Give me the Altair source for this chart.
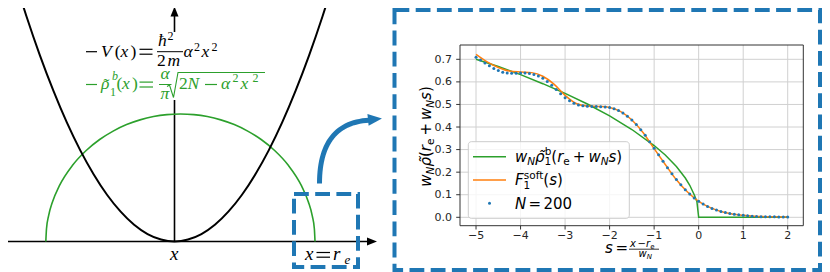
import math
import altair as alt
import pandas as pd

# ---------------- data: right panel ----------------
dot_s = [-5.0, -4.9, -4.8, -4.7, -4.6, -4.5, -4.4, -4.3, -4.2, -4.1,
         -4.0, -3.9, -3.8, -3.7, -3.6, -3.5, -3.4, -3.3, -3.2, -3.1,
         -3.0, -2.9, -2.8, -2.7, -2.6, -2.5, -2.4, -2.3, -2.2, -2.1,
         -2.0, -1.9, -1.8, -1.7, -1.6, -1.5, -1.4, -1.3, -1.2, -1.1,
         -1.0, -0.9, -0.8, -0.7, -0.6, -0.5, -0.4, -0.3, -0.2, -0.1,
         0.0, 0.1, 0.2, 0.3, 0.4, 0.5, 0.6, 0.7, 0.8, 0.9,
         1.0, 1.1, 1.2, 1.3, 1.4, 1.5, 1.6, 1.7, 1.8, 1.9, 2.0]
dot_val = [0.709, 0.697, 0.684, 0.671, 0.659, 0.650, 0.643, 0.639, 0.638, 0.638,
           0.639, 0.639, 0.637, 0.633, 0.626, 0.616, 0.602, 0.585, 0.566, 0.547,
           0.530, 0.516, 0.505, 0.498, 0.494, 0.492, 0.491, 0.491, 0.490, 0.489,
           0.486, 0.481, 0.473, 0.462, 0.448, 0.431, 0.411, 0.388, 0.363, 0.335,
           0.306, 0.277, 0.248, 0.220, 0.193, 0.167, 0.144, 0.122, 0.103, 0.086,
           0.071, 0.059, 0.048, 0.039, 0.032, 0.026, 0.021, 0.017, 0.013, 0.011,
           0.009, 0.007, 0.005, 0.004, 0.003, 0.003, 0.002, 0.002, 0.001, 0.001, 0.001]

soft_s = [-5.0, -4.75, -4.5, -4.25, -4.0, -3.75, -3.5, -3.25, -3.0, -2.75,
          -2.5, -2.25, -2.0, -1.75, -1.5, -1.25, -1.0, -0.75, -0.5, -0.25,
          0.0, 0.25, 0.5, 0.75, 1.0, 1.25, 1.5, 1.75, 2.0]
soft_val = [0.722, 0.689, 0.664, 0.648, 0.644, 0.641, 0.625, 0.590, 0.540, 0.504,
            0.493, 0.491, 0.487, 0.468, 0.431, 0.376, 0.304, 0.234, 0.166, 0.112,
            0.071, 0.044, 0.026, 0.015, 0.009, 0.005, 0.003, 0.002, 0.001]

semi_s = [-5.0, -4.5, -4.0, -3.5, -3.0, -2.5, -2.0, -1.5, -1.0, -0.75,
          -0.5, -0.3, -0.2, -0.1, -0.04, 0.0, 2.0]
semi_val = [0.700, 0.668, 0.632, 0.592, 0.549, 0.502, 0.449, 0.389, 0.318, 0.276,
            0.225, 0.174, 0.142, 0.100, 0.070, 0.0, 0.0]

x_ticks = [-5, -4, -3, -2, -1, 0, 1, 2]
x_tick_labels = ["\u22125", "\u22124", "\u22123", "\u22122", "\u22121", "0", "1", "2"]
y_ticks = [0.0, 0.1, 0.2, 0.3, 0.4, 0.5, 0.6, 0.7]
y_tick_labels = ["0.0", "0.1", "0.2", "0.3", "0.4", "0.5", "0.6", "0.7"]

# ---------------- data: left panel (schematic) ----------------
para_u = [-1.2, -1.1, -1.0, -0.9, -0.8, -0.7, -0.6, -0.5, -0.4, -0.3, -0.2, -0.1, 0.0,
          0.1, 0.2, 0.3, 0.4, 0.5, 0.6, 0.7, 0.8, 0.9, 1.0, 1.1, 1.2]
para_v = [2.102, 1.767, 1.460, 1.183, 0.934, 0.715, 0.526, 0.365, 0.234, 0.131, 0.058, 0.015, 0.0,
          0.015, 0.058, 0.131, 0.234, 0.365, 0.526, 0.715, 0.934, 1.183, 1.460, 1.767, 2.102]
circ_u = [-0.956, -0.951, -0.936, -0.906, -0.856, -0.756, -0.656, -0.556, -0.456, -0.356,
          -0.256, -0.156, -0.056, 0.044, 0.144, 0.244, 0.344, 0.444, 0.544, 0.644,
          0.744, 0.844, 0.944, 0.994, 1.024, 1.039, 1.044]
circ_v = [0.0, 0.100, 0.199, 0.312, 0.436, 0.600, 0.714, 0.800, 0.866, 0.917,
          0.954, 0.980, 0.995, 1.0, 0.995, 0.980, 0.954, 0.917, 0.866, 0.800,
          0.714, 0.600, 0.436, 0.312, 0.199, 0.100, 0.0]

# ---------------- helpers ----------------
W, H = 814, 264
BLUE = "#1f77b4"
GREEN = "#2ca02c"
ORANGE = "#ff7f0e"
ONE = pd.DataFrame({"a": [0]})
SERIF = "Liberation Serif"
SANS = "DejaVu Sans"


def v(p):
    return p - 8


PX = alt.Scale(domain=[8, 822], range=[0, 814], nice=False, zero=False)
PY = alt.Scale(domain=[8, 272], range=[0, 264], nice=False, zero=False)
LU = alt.Scale(domain=[-1, 1], range=[v(174.5 - 134.6), v(174.5 + 134.6)], nice=False, zero=False)
LV = alt.Scale(domain=[0, 1], range=[v(241.5), v(114)], nice=False, zero=False)
SX = alt.Scale(domain=[-5.36, 2.35], range=[v(460), v(803.3)], nice=False, zero=False)
SY = alt.Scale(domain=[-0.0372, 0.7634], range=[v(225.7), v(45)], nice=False, zero=False)

layers = []


def seg(x1, y1, x2, y2, color="black", width=1.0, dash=None, cap="butt"):
    kw = dict(color=color, strokeWidth=width, strokeCap=cap)
    if dash:
        kw["strokeDash"] = dash
    layers.append(alt.Chart(ONE).mark_rule(**kw).encode(
        x=alt.value(v(x1)), y=alt.value(v(y1)), x2=alt.value(v(x2)), y2=alt.value(v(y2))))


def box(x1, y1, x2, y2, stroke, width, dash=None, fill="white", fill_opacity=0.0, corner=0):
    kw = dict(stroke=stroke, strokeWidth=width, fill=fill, fillOpacity=fill_opacity,
              cornerRadius=corner)
    if dash:
        kw["strokeDash"] = dash
    layers.append(alt.Chart(ONE).mark_rect(**kw).encode(
        x=alt.value(v(x1)), x2=alt.value(v(x2)), y=alt.value(v(y1)), y2=alt.value(v(y2))))


def head(x, y, size, angle, color, path="M -1 -0.8 L 1 0 L -1 0.8 Z"):
    layers.append(alt.Chart(ONE).mark_point(shape=path, filled=True, color=color, size=size,
                                            angle=angle, opacity=1, strokeWidth=0).encode(
        x=alt.value(v(x)), y=alt.value(v(y))))


def toks(rows, font, italic, color, angle=0):
    df = pd.DataFrame(rows, columns=["t", "x", "y", "size"])
    layers.append(alt.Chart(df).mark_text(
        align="left", baseline="alphabetic", font=font,
        fontStyle="italic" if italic else "normal", color=color, angle=angle).encode(
        x=alt.X("x:Q", scale=PX, axis=None), y=alt.Y("y:Q", scale=PY, axis=None),
        text="t:N", size=alt.Size("size:Q", scale=None, legend=None)))


def polyline(pts, color, width, interp="linear"):
    df = pd.DataFrame({"px": [p[0] for p in pts], "py": [p[1] for p in pts],
                       "o": list(range(len(pts)))})
    layers.append(alt.Chart(df).mark_line(color=color, strokeWidth=width, interpolate=interp,
                                          strokeCap="butt", strokeJoin="miter").encode(
        x=alt.X("px:Q", scale=PX, axis=None), y=alt.Y("py:Q", scale=PY, axis=None),
        order="o:Q"))


# ---------------- left panel ----------------
seg(0, 241.5, 368, 241.5, "black", 1.6)
head(372, 241.5, 100, 0, "black")
seg(174.5, 13, 174.5, 32, "black", 1.6)
seg(174.5, 100, 174.5, 241.5, "black", 1.6)
head(174.5, 11.5, 100, 270, "black")

circ_df = pd.DataFrame({"u": circ_u, "v": circ_v})
layers.append(alt.Chart(circ_df).mark_line(color=GREEN, strokeWidth=1.6, interpolate="monotone").encode(
    x=alt.X("u:Q", scale=LU, axis=None), y=alt.Y("v:Q", scale=LV, axis=None)))
para_df = pd.DataFrame({"u": para_u, "v": para_v})
layers.append(alt.Chart(para_df).mark_line(color="black", strokeWidth=2, interpolate="monotone").encode(
    x=alt.X("u:Q", scale=LU, axis=None), y=alt.Y("v:Q", scale=LV, axis=None)))

# black equation: -V(x) = hbar^2/(2m) alpha^2 x^2
FS = 17.5
seg(86, 51.7, 97, 51.7, "black", 1.2)
toks([["V", 101, 57, FS], ["x", 120.5, 57, FS], ["\u0127", 158, 46, FS], ["m", 167.5, 65.5, FS],
      ["\u03b1", 183.5, 57, FS], ["x", 201.5, 57, FS]], SERIF, True, "black")
toks([["(", 114.8, 57, FS], [")", 130.5, 57, FS], ["2", 167.5, 40, 12], ["2", 157, 65.5, FS],
      ["2", 194, 50.5, 12], ["2", 211.5, 50.5, 12]], SERIF, False, "black")
seg(139.5, 49.3, 152.5, 49.3, "black", 1.2)
seg(139.5, 54.2, 152.5, 54.2, "black", 1.2)
seg(157, 51.7, 183, 51.7, "black", 1.0)

# green equation: -rho_1^b(x) = alpha/pi sqrt(2N - alpha^2 x^2)
seg(86, 84.5, 97, 84.5, GREEN, 1.2)
toks([["\u03c1", 101, 89, FS], ["b", 112, 80, 12], ["x", 122, 89, FS],
      ["\u03b1", 160.5, 78.5, FS], ["\u03c0", 160.5, 98.5, FS], ["N", 187.5, 89, FS],
      ["\u03b1", 221, 89, FS], ["x", 240.5, 89, FS]], SERIF, True, GREEN)
toks([["\u02dc", 103.5, 90, FS], ["1", 110, 95.5, 12], ["(", 116.5, 89, FS], [")", 132, 89, FS],
      ["2", 179, 89, FS], ["2", 232.5, 82, 12], ["2", 252.5, 82, 12]], SERIF, False, GREEN)
seg(139.5, 82.1, 153, 82.1, GREEN, 1.2)
seg(139.5, 87.0, 153, 87.0, GREEN, 1.2)
seg(159, 84.5, 171.5, 84.5, GREEN, 1.0)
seg(205, 84.5, 217, 84.5, GREEN, 1.2)
polyline([(167, 86.5), (169.5, 85), (173.5, 97.5), (178, 72.5), (265, 72.5)], GREEN, 1.1)

# axis labels of left panel
toks([["x", 170, 260, 19], ["x", 305, 259.5, 19], ["r", 333, 259.5, 19]], SERIF, True, "black")
toks([["e", 344.5, 263.5, 13]], SERIF, True, "black")
seg(316.5, 252.5, 330, 252.5, "black", 1.2)
seg(316.5, 257.2, 330, 257.2, "black", 1.2)

# small dashed box and curved arrow
box(294, 194, 358, 267, BLUE, 4, dash=[14.8, 6.4])
P0, P1, P2 = (319.5, 183.5), (319.5, 123.0), (369.0, 120.2)
arc = []
for i in range(31):
    t = i / 30
    arc.append(((1 - t) ** 2 * P0[0] + 2 * (1 - t) * t * P1[0] + t ** 2 * P2[0],
                (1 - t) ** 2 * P0[1] + 2 * (1 - t) * t * P1[1] + t ** 2 * P2[1]))
polyline(arc, BLUE, 5)
head(375.0, 119.2, 196, 354, BLUE, "M -1 -0.85 L 1 0 L -1 0.85 Z")

# big dashed box
box(394.5, 10, 820, 270, BLUE, 4, dash=[14.8, 6.4])

# ---------------- right panel ----------------
xt_df = pd.DataFrame({"s": x_ticks, "lab": x_tick_labels})
yt_df = pd.DataFrame({"val": y_ticks, "lab": y_tick_labels})
GRID = "#d0d0d0"
layers.append(alt.Chart(xt_df).mark_rule(color=GRID, strokeWidth=1).encode(
    x=alt.X("s:Q", scale=SX, axis=None), y=alt.value(v(45)), y2=alt.value(v(225.7))))
layers.append(alt.Chart(yt_df).mark_rule(color=GRID, strokeWidth=1).encode(
    y=alt.Y("val:Q", scale=SY, axis=None), x=alt.value(v(460)), x2=alt.value(v(803.3))))

semi_df = pd.DataFrame({"s": semi_s, "w": semi_val})
layers.append(alt.Chart(semi_df).mark_line(color=GREEN, strokeWidth=1.5).encode(
    x=alt.X("s:Q", scale=SX, axis=None), y=alt.Y("w:Q", scale=SY, axis=None)))
soft_df = pd.DataFrame({"s": soft_s, "w": soft_val})
layers.append(alt.Chart(soft_df).mark_line(color=ORANGE, strokeWidth=1.5, interpolate="monotone").encode(
    x=alt.X("s:Q", scale=SX, axis=None), y=alt.Y("w:Q", scale=SY, axis=None)))
dot_df = pd.DataFrame({"s": dot_s, "w": dot_val})
layers.append(alt.Chart(dot_df).mark_circle(color=BLUE, size=9, opacity=1).encode(
    x=alt.X("s:Q", scale=SX, axis=None), y=alt.Y("w:Q", scale=SY, axis=None)))

# frame, ticks, tick labels
box(460, 45, 803.3, 225.7, "#333333", 1)
layers.append(alt.Chart(xt_df).mark_rule(color="#333333", strokeWidth=1).encode(
    x=alt.X("s:Q", scale=SX, axis=None), y=alt.value(v(225.7)), y2=alt.value(v(229.5))))
layers.append(alt.Chart(yt_df).mark_rule(color="#333333", strokeWidth=1).encode(
    y=alt.Y("val:Q", scale=SY, axis=None), x=alt.value(v(456.2)), x2=alt.value(v(460))))
layers.append(alt.Chart(xt_df).mark_text(font=SANS, fontSize=11, color="#262626", align="center",
                                         baseline="alphabetic").encode(
    x=alt.X("s:Q", scale=SX, axis=None), y=alt.value(v(238.5)), text="lab:N"))
layers.append(alt.Chart(yt_df).mark_text(font=SANS, fontSize=11, color="#262626", align="right",
                                         baseline="middle", dy=0.5).encode(
    y=alt.Y("val:Q", scale=SY, axis=None), x=alt.value(v(452)), text="lab:N"))

# legend
box(468.3, 141.7, 629.3, 218.3, "#cccccc", 1, fill="white", fill_opacity=0.8, corner=3)
seg(473, 156.7, 506, 156.7, GREEN, 1.6)
seg(473, 180, 506, 180, ORANGE, 1.6)
layers.append(alt.Chart(ONE).mark_circle(color=BLUE, size=9, opacity=1).encode(
    x=alt.value(v(489.5)), y=alt.value(v(203.3))))
L = 15.0
S = 10.5
b1 = 161.7
toks([["w", 515, b1, L], ["N", 527.3, b1 + 3, S], ["\u03c1\u0303", 535.1, b1, L],
      ["r", 557.2, b1, L], ["w", 588.4, b1, L], ["N", 600.7, b1 + 3, S], ["s", 608.5, b1, L]],
     SANS, True, "black")
toks([["1", 544.6, b1 + 3.5, S], ["b", 544.8, b1 - 6.5, S], ["(", 551.3, b1, L], ["e", 563.3, b1 + 3, S],
      ["+", 572.8, b1, L], [")", 616.3, b1, L]], SANS, False, "black")
b2 = 185.0
toks([["F", 515, b2, L], ["s", 549.2, b2, L], ["N", 515, 208.5, L]], SANS, True, "black")
toks([["1", 523.6, b2 + 3.5, S], ["soft", 523.8, b2 - 6.5, S], ["(", 543.3, b2, L], [")", 557, b2, L],
      ["=", 528.5, 208.5, L], ["200", 543.5, 208.5, L]], SANS, False, "black")

# y axis title (rotated)
YT = 15.0
ys = 10.5
bx = 431.0
toks([["w", bx, 186.75, YT], ["\u03c1\u0303", bx, 166.6, YT], ["r", bx, 151.25, YT],
      ["w", bx, 120.05, YT], ["s", bx, 99.9, YT]], SANS, True, "black", angle=270)
toks([["N", bx + 3, 174.5, ys], ["N", bx + 3, 107.8, ys]], SANS, True, "black", angle=270)
toks([["(", bx, 157.1, YT], ["e", bx + 3, 145.1, ys], ["+", bx, 135.6, YT], [")", bx, 92.1, YT]],
     SANS, False, "black", angle=270)

# x axis title: s = (x - r_e)/w_N
toks([["s", 605, 252.5, 15], ["x", 630, 246.5, 10], ["r", 646, 246.5, 10], ["w", 638.5, 257, 10],
      ["N", 646.7, 259, 7]], SANS, True, "black")
toks([["=", 615.5, 252.5, 15], ["\u2212", 637.5, 246.5, 10], ["e", 650.3, 248.5, 7]],
     SANS, False, "black")
seg(629, 249.2, 659, 249.2, "black", 0.8)

chart = alt.layer(*layers).resolve_scale(x="independent", y="independent").properties(
    width=W, height=H, padding=0, autosize=alt.AutoSizeParams(type="none"), background="white"
).configure_view(stroke=None)

chart.save("out.html", embed_options={"renderer": "svg", "actions": False})
